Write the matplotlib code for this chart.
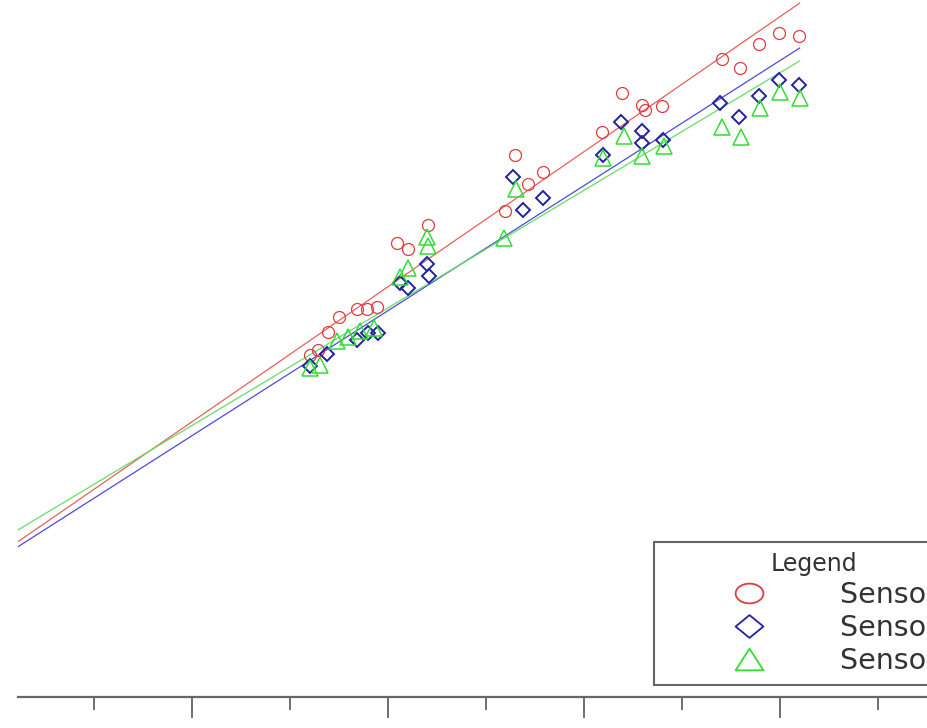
import matplotlib
matplotlib.use("Agg")
import matplotlib.pyplot as plt
from matplotlib.lines import Line2D
from matplotlib.path import Path
import numpy as np

plt.rcParams['font.family'] = ['DejaVu Sans']

# ---- data ----
sensor1_x = [32.0, 32.9, 33.9, 35.0, 36.8, 37.9, 38.9,
             40.9, 42.0, 44.1,
             51.9, 53.0, 54.3, 55.8,
             61.8, 63.9, 65.9, 66.2, 68.0,
             74.1, 75.9, 77.9, 79.9, 81.9]
sensor1_y = [34.9, 35.4, 37.2, 38.8, 39.6, 39.6, 39.8,
             46.3, 45.7, 48.2,
             49.6, 55.3, 52.3, 53.6,
             57.7, 61.6, 60.4, 59.9, 60.3,
             65.1, 64.2, 66.6, 67.8, 67.4]

sensor2_x = [32.0, 33.8, 36.8, 38.0, 39.0,
             41.2, 42.0, 44.0, 44.2,
             52.8, 53.8, 55.8,
             61.9, 63.8, 65.9, 65.9, 68.1,
             73.9, 75.8, 77.9, 79.9, 81.9]
sensor2_y = [33.8, 35.0, 36.4, 37.1, 37.1,
             42.2, 41.7, 44.2, 43.0,
             53.1, 49.7, 50.9,
             55.3, 58.7, 57.8, 56.5, 56.8,
             60.6, 59.2, 61.3, 63.0, 62.4]

sensor3_x = [32.0, 33.1, 34.8, 35.9, 37.1, 38.6,
             41.2, 42.0, 44.0, 44.1,
             51.8, 53.1,
             61.9, 64.1, 65.9, 68.2,
             74.1, 76.0, 78.0, 80.0, 82.0]
sensor3_y = [33.6, 33.9, 36.3, 36.7, 37.3, 37.7,
             42.9, 43.8, 46.9, 46.0,
             46.8, 51.8,
             55.0, 57.2, 55.2, 56.2,
             58.2, 57.1, 60.1, 61.7, 61.1]

# fitted lines: slope, intercept
fit_slopes = [0.689, 0.638, 0.600]
fit_intercepts = [14.3, 13.9, 15.7]
fit_x_range = [2.25, 82.0]

labels = ["Sensor 1", "Sensor 2", "Sensor 3"]
major_ticks = [20, 40, 60, 80]
minor_ticks = [10, 30, 50, 70, 90]

# ---- figure ----
fig = plt.figure(figsize=(9.27, 7.28), dpi=100)
ax = fig.add_axes([18 / 927, 31 / 728, 958 / 927, 697 / 728])
ax.set_xlim(2.25, 100)
ax.set_ylim(0, 71.12)

marker_colors = ['#e23b3b', '#22229e', '#33dd33']
line_colors = ['#e8605c', '#4a4ae0', '#66dd66']
markers = ['o', 'D', '^']
msizes = [8.6, 7.4, 11.5]
mew = [0.9, 1.4, 1.1]
xs = [sensor1_x, sensor2_x, sensor3_x]
ys = [sensor1_y, sensor2_y, sensor3_y]

for i in range(3):
    fx = np.array(fit_x_range)
    ax.plot(fx, fit_slopes[i] * fx + fit_intercepts[i], color=line_colors[i],
            lw=0.9, zorder=2)

for i in range(3):
    ax.plot(xs[i], ys[i], linestyle='none', marker=markers[i], ms=msizes[i],
            mfc='none', mec=marker_colors[i], mew=mew[i], zorder=3 + i)

for s in ['left', 'right', 'top']:
    ax.spines[s].set_visible(False)
ax.spines['bottom'].set_color('#666666')
ax.spines['bottom'].set_linewidth(1.6)
ax.set_xticks(major_ticks)
ax.set_xticks(minor_ticks, minor=True)
ax.tick_params(axis='x', which='major', direction='out', length=15, width=1.2,
               color='#555555', labelbottom=False)
ax.tick_params(axis='x', which='minor', direction='out', length=9.5, width=1.2,
               color='#555555')
ax.set_yticks([])

# legend markers (slightly wide shapes, as in the reference)
th = np.linspace(0, 2 * np.pi, 64)
ellipse = Path(np.column_stack([np.cos(th), 0.71 * np.sin(th)]), closed=True)
diamond = Path([(0, 0.82), (1, 0), (0, -0.82), (-1, 0), (0, 0.82)], closed=True)
triangle = Path([(-1, -0.78), (1, -0.78), (0, 0.78), (-1, -0.78)], closed=True)
leg_markers = [ellipse, diamond, triangle]

handles = [Line2D([], [], linestyle='none', marker=leg_markers[i], ms=20,
                  mfc='none', mec=marker_colors[i], mew=1.3) for i in range(3)]
leg = fig.legend(handles, labels, title='Legend', loc='upper left',
                 bbox_to_anchor=(654 / 927, 1 - 542 / 728),
                 prop={'size': 20.5}, title_fontsize=17, frameon=True,
                 fancybox=False, edgecolor='#666666', framealpha=1,
                 borderpad=0.35, handlelength=5.97, handletextpad=0.2,
                 labelspacing=0.18, borderaxespad=0)
leg.get_frame().set_linewidth(1.5)
for t in leg.get_texts():
    t.set_color('#333333')
leg.get_title().set_color('#333333')

fig.savefig('out.png', dpi=100)
